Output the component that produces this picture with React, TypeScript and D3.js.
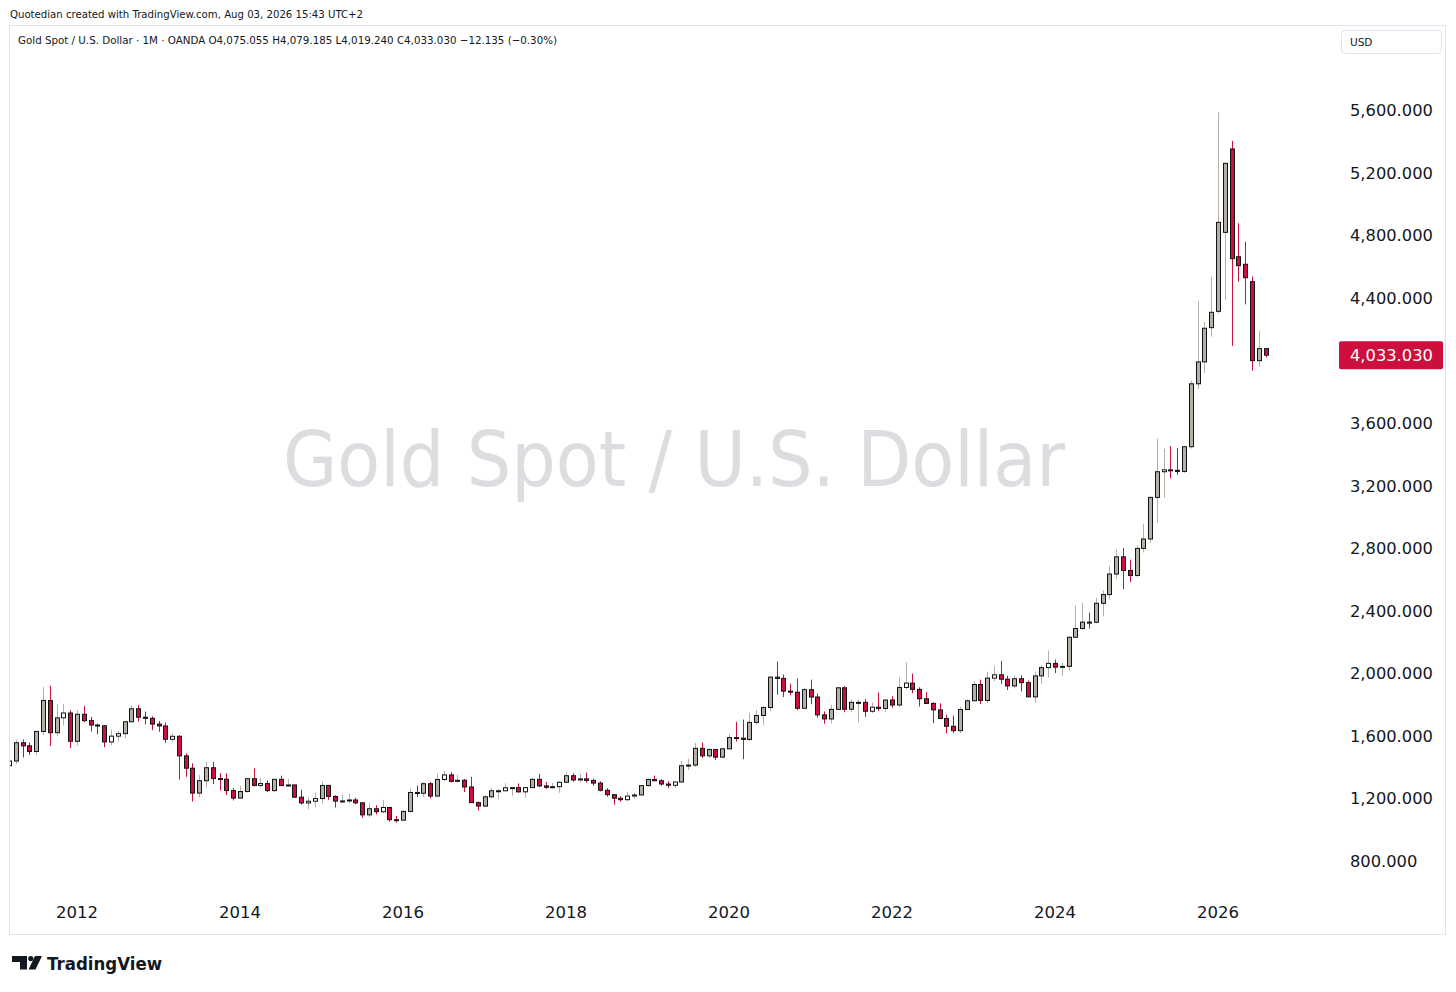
import { useEffect } from 'react';
import * as d3 from 'd3';

// monthly candles [open, high, low, close], first bar = Mar 2011
const y2011 = [
  [1409, 1447, 1381, 1439], [1439, 1575, 1419, 1556], [1556, 1577, 1462, 1536], [1536, 1557, 1478, 1500],
  [1500, 1632, 1478, 1628], [1628, 1913, 1604, 1826], [1826, 1921, 1535, 1620], [1620, 1804, 1600, 1715],
  [1715, 1803, 1667, 1746], [1746, 1764, 1523, 1565],
];
const y2012 = [
  [1565, 1764, 1537, 1738], [1738, 1791, 1688, 1697], [1697, 1721, 1627, 1669], [1669, 1677, 1610, 1664],
  [1664, 1668, 1527, 1561], [1561, 1640, 1540, 1598], [1598, 1631, 1564, 1614], [1614, 1693, 1585, 1690],
  [1690, 1796, 1688, 1773], [1773, 1796, 1691, 1719], [1719, 1755, 1673, 1712], [1712, 1725, 1636, 1675],
];
const y2013 = [
  [1675, 1695, 1626, 1663], [1663, 1684, 1555, 1578], [1578, 1616, 1562, 1597], [1597, 1605, 1321, 1472],
  [1472, 1488, 1338, 1393], [1393, 1424, 1180, 1234], [1234, 1348, 1208, 1313], [1313, 1434, 1270, 1396],
  [1396, 1434, 1292, 1327], [1327, 1361, 1251, 1323], [1323, 1361, 1221, 1250], [1250, 1267, 1187, 1202],
];
const y2014 = [
  [1202, 1280, 1202, 1244], [1244, 1332, 1238, 1326], [1326, 1392, 1277, 1283], [1283, 1331, 1268, 1295],
  [1295, 1315, 1240, 1250], [1250, 1325, 1240, 1322], [1322, 1345, 1280, 1282], [1282, 1323, 1273, 1286],
  [1286, 1288, 1205, 1208], [1208, 1255, 1161, 1171], [1171, 1206, 1131, 1182], [1182, 1238, 1142, 1199],
];
const y2015 = [
  [1199, 1307, 1167, 1283], [1283, 1284, 1191, 1213], [1213, 1220, 1142, 1183], [1183, 1224, 1168, 1184],
  [1184, 1232, 1170, 1190], [1190, 1205, 1162, 1172], [1172, 1173, 1077, 1095], [1095, 1170, 1080, 1134],
  [1134, 1157, 1098, 1115], [1115, 1191, 1106, 1142], [1142, 1146, 1052, 1064], [1064, 1088, 1046, 1061],
];
const y2016 = [
  [1061, 1124, 1060, 1117], [1117, 1263, 1110, 1238], [1238, 1283, 1208, 1233], [1233, 1304, 1209, 1294],
  [1294, 1304, 1200, 1215], [1215, 1358, 1208, 1321], [1321, 1375, 1310, 1350], [1350, 1367, 1301, 1309],
  [1309, 1352, 1302, 1316], [1316, 1324, 1241, 1273], [1273, 1338, 1171, 1173], [1173, 1180, 1123, 1151],
];
const y2017 = [
  [1151, 1220, 1146, 1210], [1210, 1264, 1200, 1249], [1249, 1261, 1195, 1249], [1249, 1296, 1245, 1268],
  [1268, 1272, 1214, 1269], [1269, 1296, 1236, 1242], [1242, 1272, 1205, 1269], [1269, 1331, 1267, 1322],
  [1322, 1357, 1271, 1280], [1280, 1306, 1261, 1271], [1271, 1299, 1264, 1275], [1275, 1309, 1236, 1303],
];
const y2018 = [
  [1303, 1366, 1303, 1345], [1345, 1361, 1307, 1318], [1318, 1356, 1303, 1325], [1325, 1365, 1301, 1315],
  [1315, 1326, 1281, 1298], [1298, 1309, 1245, 1252], [1252, 1265, 1211, 1224], [1224, 1225, 1160, 1201],
  [1201, 1214, 1180, 1192], [1192, 1243, 1182, 1215], [1215, 1237, 1196, 1222], [1222, 1284, 1221, 1282],
];
const y2019 = [
  [1282, 1326, 1277, 1321], [1321, 1346, 1310, 1313], [1313, 1324, 1281, 1292], [1292, 1310, 1266, 1284],
  [1284, 1306, 1267, 1305], [1305, 1439, 1301, 1409], [1409, 1453, 1382, 1413], [1413, 1555, 1400, 1520],
  [1520, 1557, 1459, 1472], [1472, 1517, 1458, 1513], [1513, 1515, 1445, 1464], [1464, 1523, 1459, 1517],
];
const y2020 = [
  [1517, 1611, 1517, 1589], [1589, 1689, 1563, 1585], [1585, 1704, 1451, 1577], [1577, 1747, 1567, 1686],
  [1686, 1765, 1670, 1730], [1730, 1789, 1670, 1781], [1781, 1984, 1757, 1975], [1975, 2075, 1863, 1967],
  [1967, 1992, 1848, 1886], [1886, 1933, 1860, 1879], [1879, 1966, 1764, 1776], [1776, 1906, 1776, 1895],
];
const y2021 = [
  [1895, 1959, 1802, 1848], [1848, 1871, 1717, 1734], [1734, 1756, 1677, 1708], [1708, 1798, 1679, 1769],
  [1769, 1913, 1766, 1907], [1907, 1917, 1751, 1770], [1770, 1833, 1751, 1814], [1814, 1832, 1688, 1814],
  [1814, 1834, 1721, 1757], [1757, 1814, 1746, 1783], [1783, 1877, 1758, 1775], [1775, 1831, 1753, 1829],
];
const y2022 = [
  [1829, 1853, 1780, 1797], [1797, 1974, 1783, 1909], [1909, 2070, 1895, 1937], [1937, 1998, 1872, 1897],
  [1897, 1910, 1787, 1837], [1837, 1879, 1805, 1807], [1807, 1814, 1681, 1766], [1766, 1808, 1709, 1711],
  [1711, 1735, 1615, 1661], [1661, 1729, 1617, 1633], [1633, 1786, 1616, 1768], [1768, 1833, 1765, 1824],
];
const y2023 = [
  [1824, 1949, 1823, 1928], [1928, 1959, 1804, 1826], [1826, 2009, 1809, 1969], [1969, 2048, 1949, 1990],
  [1990, 2079, 1932, 1962], [1962, 1984, 1893, 1919], [1919, 1987, 1903, 1965], [1965, 1987, 1884, 1940],
  [1940, 1953, 1848, 1849], [1849, 2009, 1810, 1983], [1983, 2052, 1932, 2036], [2036, 2146, 1973, 2063],
];
const y2024 = [
  [2063, 2088, 2001, 2039], [2039, 2065, 1984, 2044], [2044, 2236, 2016, 2230], [2230, 2431, 2229, 2286],
  [2286, 2450, 2277, 2327], [2327, 2387, 2286, 2326], [2326, 2483, 2318, 2447], [2447, 2531, 2364, 2503],
  [2503, 2685, 2471, 2634], [2634, 2790, 2603, 2744], [2744, 2801, 2537, 2657], [2657, 2726, 2583, 2625],
];
const y2025 = [
  [2625, 2817, 2614, 2798], [2798, 2956, 2772, 2858], [2858, 3128, 2833, 3124], [3124, 3500, 2960, 3288],
  [3288, 3435, 3121, 3300], [3300, 3452, 3246, 3297], [3297, 3439, 3268, 3290], [3290, 3453, 3281, 3448],
  [3448, 3871, 3436, 3850], [3850, 4381, 3817, 3990], [3990, 4245, 3919, 4205], [4209, 4535, 4151, 4307],
];
const y2026 = [
  [4313, 5585, 4300, 4882], [4818, 5265, 4386, 5259], [5351, 5402, 4092, 4650], [4662, 4876, 4503, 4605],
  [4614, 4758, 4358, 4528], [4503, 4535, 3934, 3998], [3998, 4189, 3959, 4075.055], [4075.055, 4079.185, 4019.24, 4033.03],
];

const yearLabels = [2012, 2014, 2016, 2018, 2020, 2022, 2024, 2026];
const priceTicks = [800, 1200, 1600, 2000, 2400, 2800, 3200, 3600, 4000, 4400, 4800, 5200, 5600];

const UP_FILL = '#b4afa7';
const DOWN = '#cc0f3d';
const FONT = "'DejaVu Sans', Verdana, sans-serif";

const candles = [y2011, y2012, y2013, y2014, y2015, y2016, y2017, y2018, y2019, y2020, y2021, y2022, y2023, y2024, y2025, y2026]
  .flat()
  .map(([o, h, l, c], i) => ({ i, o, h, l, c }));

const last = candles[candles.length - 1];

export default function App() {
  useEffect(() => {
    document.body.style.margin = '0';
  }, []);

  // bar index 10 = Jan 2012, 178 = Jan 2026
  const x = d3.scaleLinear().domain([10, 178]).range([77, 1218]);
  const y = d3.scaleLinear().domain([800, 5600]).range([861, 110]);
  const fmt = d3.format(',.3f');
  const lastY = y(last.c);

  return (
    <svg width={1456} height={992} style={{ position: 'absolute', left: 0, top: 0, background: '#fff' }}>
      <defs>
        <clipPath id="plot">
          <rect x={10} y={26} width={1330} height={908} />
        </clipPath>
      </defs>
      <rect x={0} y={0} width={1456} height={992} fill="#fff" />

      <text x={10} y={18} fontFamily={FONT} fontSize={11} fill="#131722" textLength={353} lengthAdjust="spacingAndGlyphs">
        Quotedian created with TradingView.com, Aug 03, 2026 15:43 UTC+2
      </text>

      <rect x={9.5} y={25.5} width={1436} height={909} fill="none" stroke="#e0e3eb" />

      <text
        x={283}
        y={486}
        fontFamily={FONT}
        fontSize={77}
        fill="#dcdde0"
        textLength={782}
        lengthAdjust="spacingAndGlyphs"
      >
        Gold Spot / U.S. Dollar
      </text>

      <text x={18} y={44} fontFamily={FONT} fontSize={11} fill="#131722" textLength={539} lengthAdjust="spacingAndGlyphs">
        Gold Spot / U.S. Dollar · 1M · OANDA  O4,075.055  H4,079.185  L4,019.240  C4,033.030  −12.135 (−0.30%)
      </text>

      <g clipPath="url(#plot)">
        {candles.map((d) => {
          const cx = Math.round(x(d.i)) + 0.5;
          const up = d.c >= d.o;
          const top = y(Math.max(d.o, d.c));
          const bot = y(Math.min(d.o, d.c));
          const bh = Math.max(bot - top, 1);
          const fill = up ? (bh < 6 ? '#ffffff' : UP_FILL) : DOWN;
          return (
            <g key={d.i}>
              <line x1={cx} x2={cx} y1={y(d.h)} y2={y(d.l)} stroke={up ? UP_FILL : DOWN} strokeWidth={1} />
              <rect x={cx - 2} y={top} width={4} height={bh} fill={fill} stroke="#131313" strokeWidth={1} />
            </g>
          );
        })}
      </g>

      {priceTicks
        .filter((p) => Math.abs(y(p) - lastY) > 20)
        .map((p) => (
          <text key={p} x={1350} y={y(p) + 6} fontFamily={FONT} fontSize={16.3} fill="#131722">
            {fmt(p)}
          </text>
        ))}

      <rect x={1339} y={lastY - 14} width={104} height={28} rx={2} fill={DOWN} />
      <text x={1350} y={lastY + 6} fontFamily={FONT} fontSize={16.3} fill="#fff">
        {fmt(last.c)}
      </text>

      <rect x={1341.5} y={30.5} width={100} height={23} rx={4} fill="#fff" stroke="#e0e3eb" />
      <text x={1350} y={46} fontFamily={FONT} fontSize={10.5} fill="#131722">
        USD
      </text>

      {yearLabels.map((yr) => (
        <text
          key={yr}
          x={x(10 + (yr - 2012) * 12)}
          y={918}
          textAnchor="middle"
          fontFamily={FONT}
          fontSize={16.5}
          fill="#131722"
        >
          {yr}
        </text>
      ))}

      <g fill="#131722">
        <path d="M12 956 H27 V969.5 H20 V962 H12 Z" />
        <circle cx={30.8} cy={958.6} r={2.6} />
        <path d="M35 956 H42 L35.5 969.5 H28.5 Z" />
        <text x={47} y={969.5} fontFamily={FONT} fontSize={18.5} fontWeight={700} textLength={115} lengthAdjust="spacingAndGlyphs">
          TradingView
        </text>
      </g>
    </svg>
  );
}
